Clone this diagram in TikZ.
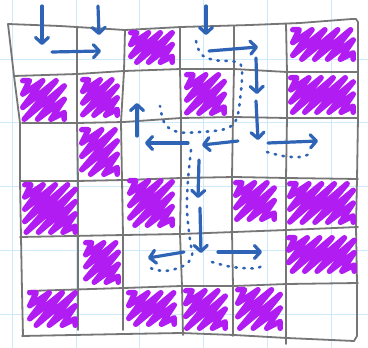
\documentclass[tikz,border=0pt]{standalone}
\usetikzlibrary{arrows.meta}
\definecolor{scribcol}{RGB}{176,28,242}
\definecolor{pencol}{RGB}{46,99,182}
\definecolor{gridgray}{RGB}{118,118,118}
\definecolor{papercol}{RGB}{206,233,249}
\tikzset{
  paperline/.style={papercol, line width=1pt},
  gridline/.style={gridgray, line width=1.8pt, line cap=round, line join=round},
  scribble/.style={scribcol, line width=5.5pt, line cap=round, line join=round},
  penarrow/.style={pencol, line width=3.2pt, line cap=round, -{Straight Barb[length=6pt,width=13pt,round]}},
  pendots/.style={pencol, line width=2.6pt, line cap=round, dash pattern=on 1.5pt off 6.5pt},
}
\newcommand{\purplescrib}[4]{%
  \pgfmathsetmacro\scXa{#1+2.75}\pgfmathsetmacro\scYa{#2+2.75}%
  \pgfmathsetmacro\scW{#3-#1-5.5}\pgfmathsetmacro\scH{#4-#2-5.5}%
  \pgfmathsetmacro\scL{\scW+\scH}%
  \pgfmathtruncatemacro\scN{2*round(\scL/12.5)}%
  \pgfmathtruncatemacro\scM{\scN-2}%
  \draw[scribble] (\scXa,\scYa) \foreach \i in {0,2,...,\scM} {
     -- ({\scXa+max(\i*\scL/\scN-\scH,0)},{\scYa+min(\i*\scL/\scN,\scH)})
     -- ({\scXa+min((\i+1)*\scL/\scN,\scW)},{\scYa+max((\i+1)*\scL/\scN-\scW,0)})
  } -- ({\scXa+\scW},{\scYa+\scH});
}
\begin{document}
\begin{tikzpicture}[x=1pt,y=-1pt]
\useasboundingbox (0,0) rectangle (368,348);
\fill[white] (0,0) rectangle (368,348);
% graph paper
\foreach \gx in {13,77,140,204,268,332} \draw[paperline] (\gx,0) -- (\gx,348);
\foreach \gy in {60,123,187,251,315} \draw[paperline] (0,\gy) -- (368,\gy);
% hand-drawn grid
\draw[gridline] (8,24) -- (60,26) -- (125,30) -- (181,27) -- (250,25) -- (300,23) -- (352,19) -- (356,19) -- (358,22)
  -- (358,72) -- (358,118) -- (357,179) -- (356,227) -- (357,283) -- (357,336) -- (354,341);
\draw[gridline] (22,336) -- (124,334) -- (181,333) -- (234,335) -- (287,338) -- (354,341);
\draw[gridline] (8,24) -- (14,76) -- (20,123) -- (20,181) -- (21,237) -- (22,291) -- (23,336);
\draw[gridline] (14,76) -- (77,74) -- (124,71) -- (181,69) -- (234,69) -- (287,72) -- (358,72);
\draw[gridline] (22,123) -- (77,123) -- (124,122) -- (181,118) -- (234,117) -- (287,118) -- (358,118);
\draw[gridline] (20,181) -- (77,181) -- (124,180) -- (181,178) -- (234,177) -- (287,178) -- (358,179);
\draw[gridline] (20,237) -- (124,235) -- (181,234) -- (234,232) -- (287,230) -- (358,227);
\draw[gridline] (28,291) -- (124,288) -- (181,286) -- (234,286) -- (287,284) -- (358,283);
\draw[gridline] (77,28) -- (77,74) -- (77,123) -- (78,181) -- (78,237) -- (78,291) -- (78,330);
\draw[gridline] (125,30) -- (124,71) -- (121,122) -- (122,180) -- (123,235) -- (123,288) -- (123,330);
\draw[gridline] (180,27) -- (180,69) -- (181,118) -- (181,178) -- (180,234) -- (182,286) -- (183,335);
\draw[gridline] (234,26) -- (234,69) -- (233,117) -- (232,177) -- (232,232) -- (233,286) -- (233,336);
\draw[gridline] (286,24) -- (287,72) -- (287,118) -- (286,178) -- (286,230) -- (286,284) -- (286,344);
% purple scribbles
\purplescrib{128}{30}{175}{65}
\purplescrib{290}{27}{356}{62}
\purplescrib{20}{78}{67}{122}
\purplescrib{80}{77}{120}{118}
\purplescrib{184}{72}{227}{116}
\purplescrib{288}{75}{356}{115}
\purplescrib{79}{127}{120}{177}
\purplescrib{22}{182}{78}{235}
\purplescrib{127}{178}{175}{228}
\purplescrib{233}{180}{277}{222}
\purplescrib{287}{181}{356}{225}
\purplescrib{83}{240}{121}{285}
\purplescrib{286}{235}{357}{274}
\purplescrib{27}{290}{78}{328}
\purplescrib{126}{290}{177}{327}
\purplescrib{183}{288}{228}{331}
\purplescrib{235}{287}{283}{331}
% dotted traces
\draw[pendots] plot[smooth, tension=0.6] coordinates {(196,41) (201,54) (214,60) (236,62) (242,70) (240,100) (236,120) (225,129) (200,132) (178,132) (165,124) (160,106)};
\draw[pendots] plot[smooth, tension=0.6] coordinates {(191,150) (188,180) (187,210) (190,240) (192,256) (183,266) (165,271) (150,268)};
\draw[pendots] plot[smooth, tension=0.6] coordinates {(212,262) (227,266) (242,268) (258,268) (263,263)};
\draw[pendots] plot[smooth, tension=0.6] coordinates {(267,152) (283,156) (300,157) (312,153)};
% arrow end points
\coordinate (a1s) at (42,6);    \coordinate (a1e) at (42,45);
\coordinate (a2s) at (98,6);    \coordinate (a2e) at (99,35);
\coordinate (a3s) at (52,52);   \coordinate (a3e) at (101,51);
\coordinate (a4s) at (206,6);   \coordinate (a4e) at (206,35);
\coordinate (a5s) at (209,51);  \coordinate (a5e) at (258,47);
\coordinate (a6s) at (256,58);  \coordinate (a6e) at (257,94);
\coordinate (a7s) at (256,101); \coordinate (a7e) at (258,140);
\coordinate (a8s) at (268,143); \coordinate (a8e) at (318,141);
\coordinate (a9s) at (238,141); \coordinate (a9e) at (202,145);
\coordinate (a10s) at (188,143); \coordinate (a10e) at (145,143);
\coordinate (a11s) at (137,136); \coordinate (a11e) at (137,103);
\coordinate (a12s) at (199,160); \coordinate (a12e) at (198,198);
\coordinate (a13s) at (200,208); \coordinate (a13e) at (201,253);
\coordinate (a14s) at (184,252); \coordinate (a14e) at (148,258);
\coordinate (a15s) at (218,252); \coordinate (a15e) at (262,252);
\foreach \k in {1,...,15} \draw[penarrow] (a\k s) -- (a\k e);
\end{tikzpicture}
\end{document}
